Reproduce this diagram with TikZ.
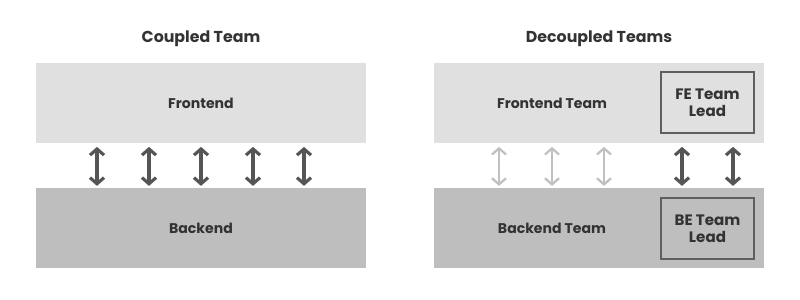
\documentclass[tikz,border=0pt]{standalone}
\usepackage{fontspec}
\setmainfont{Poppins}
\usepackage{xcolor}
\definecolor{textcolor}{RGB}{51,51,51}
\definecolor{frontcolor}{RGB}{224,224,224}
\definecolor{backcolor}{RGB}{190,190,190}
\definecolor{arrowcolor}{RGB}{85,85,85}
\definecolor{fadecolor}{RGB}{192,192,192}
\definecolor{leadcolor}{RGB}{95,95,95}
\usetikzlibrary{arrows.meta,calc}

\begin{document}
\begin{tikzpicture}[x=0.02cm, y=-0.02cm,
  every node/.style={color=textcolor, font=\bfseries\fontsize{8}{10}\selectfont, align=center},
  layer/.style={minimum width=6.6cm, minimum height=1.6cm, inner sep=0pt},
  leadbox/.style={draw=leadcolor, line width=0.8pt, minimum width=1.86cm, minimum height=1.22cm, inner sep=0pt, font=\bfseries\fontsize{8.6}{9.8}\selectfont},
  link/.style={{Straight Barb[length=3.5pt,width=8pt]}-{Straight Barb[length=3.5pt,width=8pt]}, line width=1.8pt, color=arrowcolor, shorten <=2pt, shorten >=1pt},
  fadelink/.style={link, color=fadecolor, line width=1.3pt}]
  \useasboundingbox (0,0) rectangle (800,300);

  \node (ct) at (201,39) {\fontsize{9}{10}\selectfont Coupled Team};
  \node[layer, fill=frontcolor] (fe) at (201,103) {Frontend};
  \node[layer, fill=backcolor] (be) at (201,228) {Backend};
  \foreach \x in {97,149,201,253,304}
    \draw[link] (fe.south -| \x,0) -- (be.north -| \x,0);

  \node (dt) at (599,39) {\fontsize{9}{10}\selectfont Decoupled Teams};
  \node[layer, fill=frontcolor] (fet) at (599,103) {};
  \node[layer, fill=backcolor] (bet) at (599,228) {};
  \node (fel) at (552,103) {Frontend Team};
  \node (bel) at (552,228) {Backend Team};
  \node[leadbox] (fl) at (707.5,102.5) {FE Team\\Lead};
  \node[leadbox] (bl) at (707.5,228.5) {BE Team\\Lead};
  \foreach \x in {499,552,604}
    \draw[fadelink] (fet.south -| \x,0) -- (bet.north -| \x,0);
  \foreach \x in {682,733}
    \draw[link] (fet.south -| \x,0) -- (bet.north -| \x,0);
\end{tikzpicture}
\end{document}
